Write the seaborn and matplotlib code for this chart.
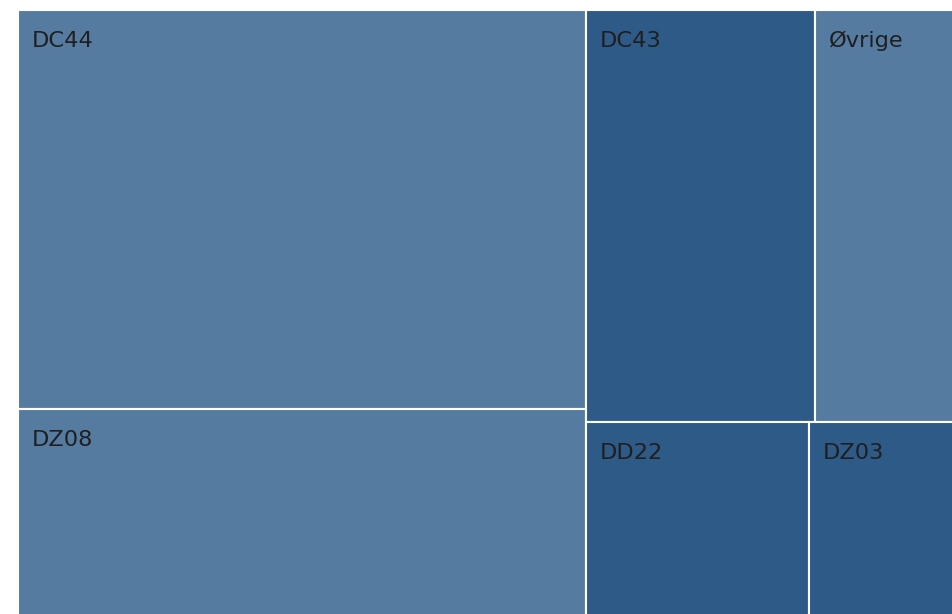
import matplotlib
matplotlib.use("Agg")
import matplotlib.pyplot as plt
import seaborn as sns
from matplotlib.patches import Rectangle

# Data (share of total)
labels = ["DC44", "DZ08", "DC43", "Øvrige", "DD22", "DZ03"]
values = [401, 206, 167, 101, 76, 49]
groups = ["A", "A", "B", "A", "B", "B"]

palette = {"A": "#557ca0", "B": "#2e5a87"}


def squarify(vals, x0, y0, x1, y1, ratio=1.618):
    # d3-style squarified layout with golden ratio
    rects = []
    total = float(sum(vals))
    i0 = 0
    n = len(vals)
    while i0 < n:
        dx, dy = x1 - x0, y1 - y0
        i1 = i0 + 1
        s = vals[i0]
        vmin = vmax = s
        alpha = max(dy / dx, dx / dy) / (total * ratio)
        beta = s * s * alpha
        best = max(vmax / beta, beta / vmin)
        while i1 < n:
            v = vals[i1]
            s2 = s + v
            beta = s2 * s2 * alpha
            r = max(max(vmax, v) / beta, beta / min(vmin, v))
            if r > best:
                break
            s, vmin, vmax, best = s2, min(vmin, v), max(vmax, v), r
            i1 += 1
        row = vals[i0:i1]
        if dx < dy:
            h = dy * s / total
            cx = x0
            for v in row:
                w = dx * v / s
                rects.append((cx, y0, w, h))
                cx += w
            y0 += h
        else:
            w = dx * s / total
            cy = y0
            for v in row:
                h = dy * v / s
                rects.append((x0, cy, w, h))
                cy += h
            x0 += w
        total -= s
        i0 = i1
    return rects


sns.set_theme(style="white")
plt.rcParams["font.family"] = ["DejaVu Sans"]

W, H = 935, 604
fig = plt.figure(figsize=(9.53, 6.14), dpi=100)
ax = fig.add_axes([18 / 953, 0, W / 953, H / 614])
ax.set_xlim(0, W)
ax.set_ylim(H, 0)
ax.axis("off")

order = sorted(range(len(values)), key=lambda i: -values[i])
sorted_vals = [values[i] for i in order]
rects = squarify(sorted_vals, 0, 0, W, H)

for idx, (x, y, w, h) in zip(order, rects):
    # tiles touching the right/bottom edge run past the canvas (clipped there)
    if abs(x + w - W) < 0.5:
        w += 4
    if abs(y + h - H) < 0.5:
        h += 4
    p = Rectangle((x, y), w, h, facecolor=palette[groups[idx]],
                  edgecolor="white", linewidth=1.5, clip_on=False)
    ax.add_patch(p)
    ax.annotate(labels[idx], xy=(x, y), xytext=(14, -37), textcoords="offset pixels",
                ha="left", va="baseline", fontsize=16.2, color="#1f1f1f")

fig.savefig("out.png", dpi=100)
